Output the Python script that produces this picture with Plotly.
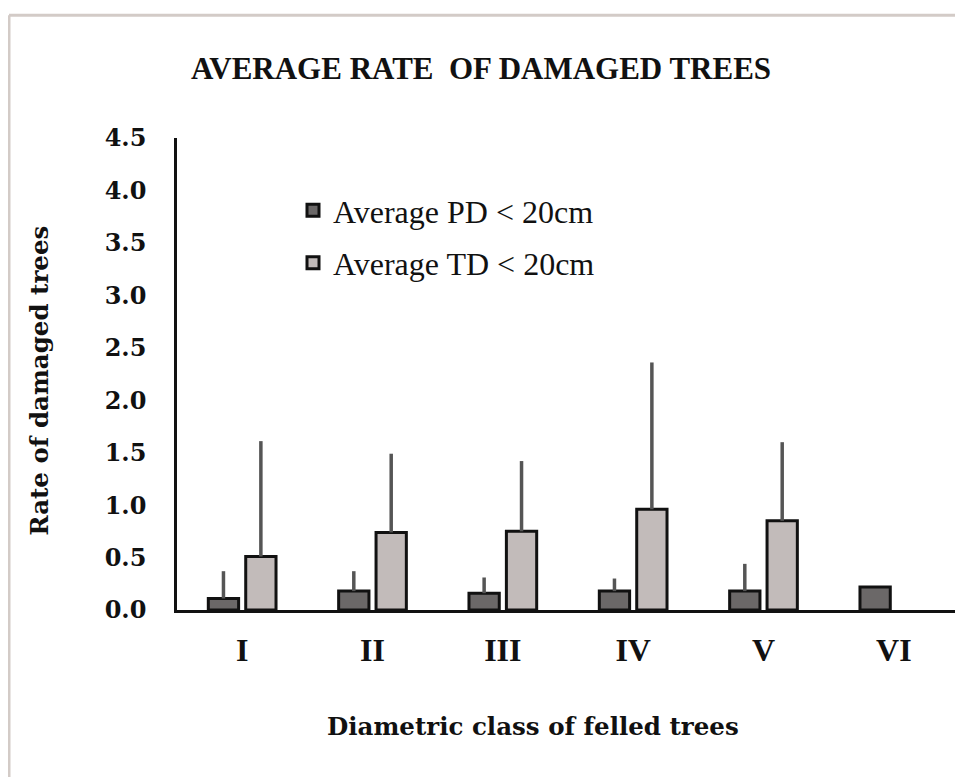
import plotly.graph_objects as go

categories = ["I", "II", "III", "IV", "V", "VI"]
pd_values = [0.11, 0.18, 0.16, 0.18, 0.18, 0.22]
pd_errors = [0.26, 0.19, 0.15, 0.12, 0.26, 0.0]
td_values = [0.51, 0.74, 0.75, 0.96, 0.85, None]
td_errors = [1.10, 0.75, 0.67, 1.40, 0.75, 0.0]
y_ticks = [0.0, 0.5, 1.0, 1.5, 2.0, 2.5, 3.0, 3.5, 4.0, 4.5]

# page has an 8px body margin; work in reference-pixel coordinates and shift
OFF = 8
W, H = 963 - OFF, 777 - OFF
ML, MR, MT, MB = 177 - OFF, 12 - OFF, 138 - OFF, 166.5
PW, PH = W - ML - MR, H - MT - MB

def px_x(px):
    return (px - OFF - ML) / PW

def px_y(py):
    return (H - MB - (py - OFF)) / PH

fig = go.Figure()
fig.add_trace(go.Bar(
    x=categories, y=pd_values, name="Average PD < 20cm",
    legendgroup="pd",
    marker=dict(color="#6b6868", line=dict(color="#111111", width=3)),
    error_y=dict(type="data", array=pd_errors, arrayminus=[0] * 6, symmetric=False,
                 color="#555555", thickness=3.5, width=0),
))
fig.add_trace(go.Bar(
    x=categories, y=td_values, name="Average TD < 20cm",
    legendgroup="td",
    marker=dict(color="#c2bbba", line=dict(color="#111111", width=3)),
    error_y=dict(type="data", array=td_errors, arrayminus=[0] * 6, symmetric=False,
                 color="#555555", thickness=3.5, width=0),
))

fig.update_layout(
    width=W, height=H,
    margin=dict(l=ML, r=MR, t=MT, b=MB, autoexpand=False),
    paper_bgcolor="white", plot_bgcolor="white",
    barmode="group", bargap=0.426, bargroupgap=0.19,
    title=dict(text="AVERAGE RATE  OF DAMAGED TREES", x=(481 - OFF) / W, xanchor="center",
               y=1 - (68 - OFF) / H, yanchor="middle",
               font=dict(family="Liberation Serif", size=31, color="#111111", weight="bold")),
    showlegend=True,
    legend=dict(x=px_x(293), y=px_y(183), xanchor="left", yanchor="top",
                bgcolor="rgba(0,0,0,0)", tracegroupgap=8, traceorder="grouped",
                font=dict(family="Liberation Serif", size=32, color="#111111")),
    xaxis=dict(showgrid=False, showline=True, linecolor="#111111", linewidth=2.5,
               ticks="", ticklabelstandoff=10, range=[-0.5, 5.5],
               tickfont=dict(family="Liberation Serif", size=32, color="#111111", weight="bold")),
    yaxis=dict(showgrid=False, showline=True, linecolor="#111111", linewidth=2.5,
               range=[0, 4.5], tickvals=y_ticks, ticktext=[f"{v:.1f}" for v in y_ticks],
               ticks="", ticklabelstandoff=23, zeroline=False,
               tickfont=dict(family="DejaVu Serif", size=24, color="#111111", weight="bold")),
    annotations=[
        dict(text="Rate of damaged trees", xref="paper", yref="paper",
             x=px_x(40), y=px_y(381), xanchor="center", yanchor="middle",
             textangle=-90, showarrow=False,
             font=dict(family="DejaVu Serif", size=24.5, color="#111111", weight="bold")),
        dict(text="Diametric class of felled trees", xref="paper", yref="paper",
             x=px_x(533), y=px_y(727), xanchor="center", yanchor="middle",
             showarrow=False,
             font=dict(family="DejaVu Serif", size=24.5, color="#111111", weight="bold")),
    ],
    shapes=[
        dict(type="line", xref="paper", yref="paper", x0=px_x(9), x1=px_x(975),
             y0=px_y(15), y1=px_y(15), line=dict(color="#d3cbc7", width=3)),
        dict(type="line", xref="paper", yref="paper", x0=px_x(9), x1=px_x(9),
             y0=px_y(15), y1=px_y(790), line=dict(color="#d3cbc7", width=3)),
    ],
)

fig.write_html("out.html")
